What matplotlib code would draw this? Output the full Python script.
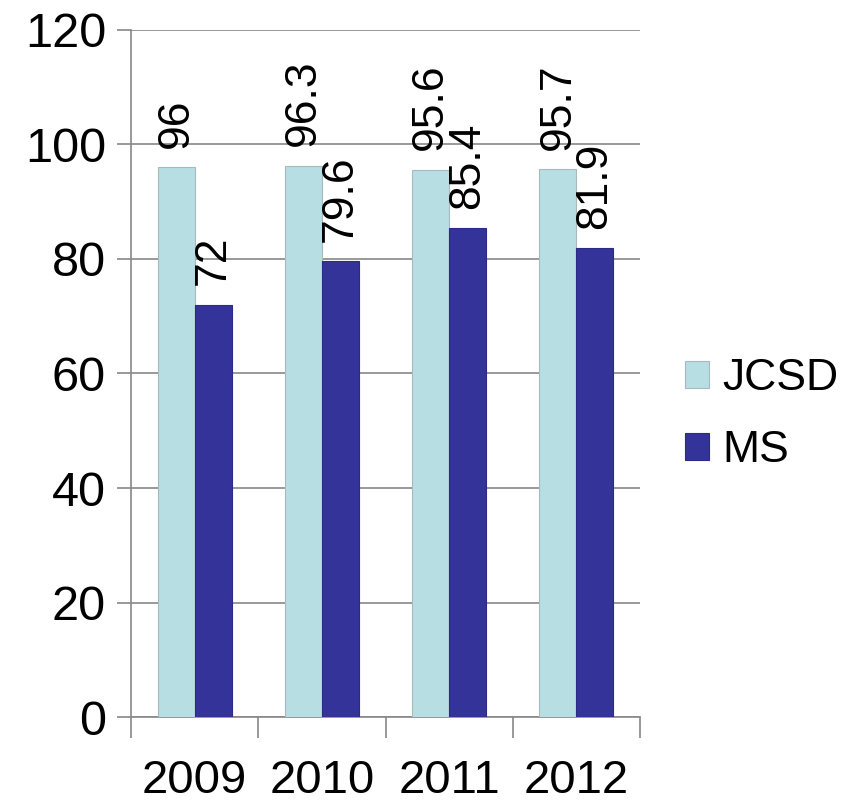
import numpy as np
import matplotlib.pyplot as plt

plt.rcParams['font.family'] = ['Liberation Sans', 'DejaVu Sans']

# Data
years = ['2009', '2010', '2011', '2012']
jcsd = [96, 96.3, 95.6, 95.7]
ms = [72, 79.6, 85.4, 81.9]
series_names = ['JCSD', 'MS']
colors = ['#B7DEE3', '#333399']

fig = plt.figure(figsize=(8.51, 8.08), dpi=100)
ax = fig.add_axes([0.154, 0.1126, 0.598, 0.8503])

x = np.arange(len(years))
w = 0.29
bars1 = ax.bar(x - w / 2, jcsd, w, color=colors[0], edgecolor='#A8B8BC', linewidth=0.8,
               label=series_names[0], zorder=3)
bars2 = ax.bar(x + w / 2, ms, w, color=colors[1], edgecolor='#2A2A88', linewidth=0.8,
               label=series_names[1], zorder=3)

# value labels, rotated
for bars in (bars1, bars2):
    for b in bars:
        ax.annotate(f'{b.get_height():g}', (b.get_x() + b.get_width() / 2, b.get_height()),
                    xytext=(0, 14), textcoords='offset points', rotation=90,
                    ha='center', va='bottom', fontsize=32, zorder=4)

ax.set_xlim(-0.5, len(years) - 0.5)
ax.set_ylim(0, 120)
ax.set_yticks(np.arange(0, 121, 20))
ax.yaxis.grid(True, color='#888888', linewidth=1.2, zorder=0)
ax.tick_params(axis='y', labelsize=35, length=10, color='#888888', width=1.2, pad=8)

# category boundary ticks below axis, labels centered
ax.set_xticks(np.arange(-0.5, len(years), 1.0))
ax.set_xticklabels([])
ax.set_xticks(x, minor=True)
ax.set_xticklabels(years, minor=True, fontsize=34)
ax.tick_params(axis='x', which='major', length=15, color='#888888', width=1.2)
ax.tick_params(axis='x', which='minor', length=0, pad=30)

for s in ['top', 'right']:
    ax.spines[s].set_visible(False)
for s in ['left', 'bottom']:
    ax.spines[s].set_color('#888888')
    ax.spines[s].set_linewidth(1.2)

leg = ax.legend(loc='center left', bbox_to_anchor=(1.01, 0.44), frameon=False,
                fontsize=32, handlelength=0.55, handleheight=0.55, handletextpad=0.3,
                labelspacing=0.7)

fig.savefig('out.png', dpi=100)
